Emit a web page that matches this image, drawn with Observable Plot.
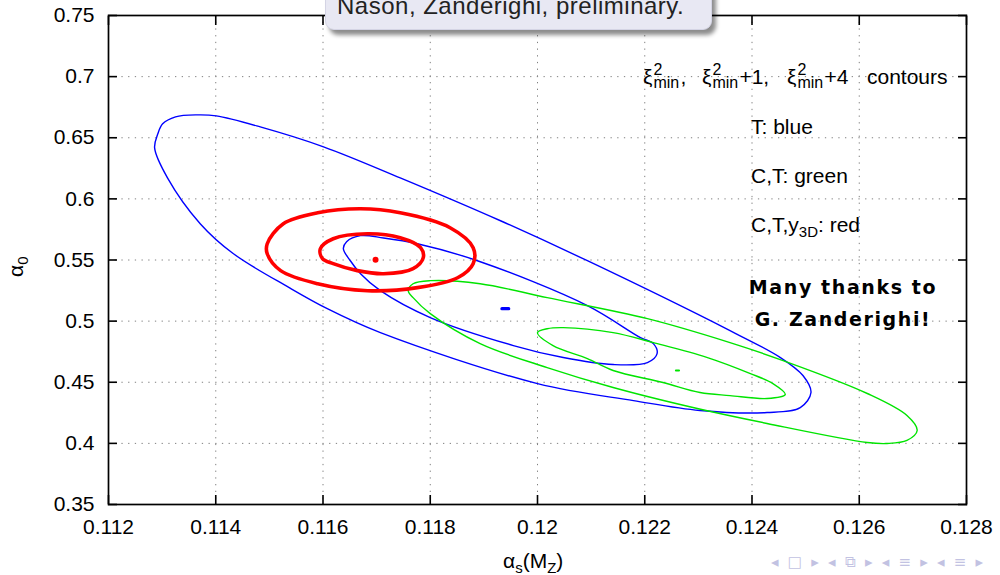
<!DOCTYPE html>
<html>
<head>
<meta charset="utf-8">
<script src="https://cdn.jsdelivr.net/npm/d3@7"></script>
<script src="https://cdn.jsdelivr.net/npm/@observablehq/plot@0.6"></script>
<style>
  html, body { margin: 0; padding: 0; background: #fff; }
  #wrap { position: relative; width: 1000px; height: 575px; overflow: hidden; font-family: "Liberation Sans", Arial, sans-serif; color: #000; }
  #wrap svg { position: absolute; left: 0; top: 0; }
  .ov { position: absolute; white-space: nowrap; font-size: 21px; line-height: 21px; }
  .ss { display: inline-block; position: relative; width: 28px; height: 1px; }
  .ss .sp, .ss .sb { position: absolute; left: 1px; font-size: 16px; line-height: 16px; }
  .ss .sp { top: -21px; }
  .ss .sb { top: -8.5px; }
  sub.s { font-size: 15px; vertical-align: -5px; line-height: 0; }
  #titlebox { position: absolute; left: 325px; top: -22px; width: 387px; height: 52px; border-radius: 9px;
    background: #e8e8f3; box-shadow: 4px 5px 4px rgba(0,0,0,0.45); border: 1px solid #d4d4e4; box-sizing: border-box; }
  #titletext { position: absolute; left: 337px; top: -6px; font-size: 24px; line-height: 24px; letter-spacing: 0.5px; color: #222; white-space: nowrap; }
  #thanks { position: absolute; left: 743px; top: 271px; width: 200px; text-align: center; font-family: "DejaVu Sans", sans-serif;
    font-weight: bold; font-size: 19px; line-height: 32px; letter-spacing: 1.6px; }
  #nav { position: absolute; left: 771px; top: 553px; width: 212px; display: flex; justify-content: space-between; color: #c2c2e2; font-size: 15px; font-family: "DejaVu Sans", sans-serif; }
</style>
</head>
<body>
<div id="wrap"></div>
<script>
// ---- tick values ----
const xTicks = [0.112, 0.114, 0.116, 0.118, 0.12, 0.122, 0.124, 0.126, 0.128];
const yTicks = [0.35, 0.4, 0.45, 0.5, 0.55, 0.6, 0.65, 0.7, 0.75];

// ---- contours [alpha_s, alpha_0] ----
// T (blue): chi2min+4 and chi2min+1
const blueOuter = [[0.11286,0.6417],[0.11292,0.6532],[0.11301,0.6614],[0.11325,0.6671],[0.11366,0.6687],[0.11401,0.6679],
  [0.11483,0.6589],[0.11601,0.6426],[0.11744,0.6172],[0.11931,0.5821],[0.12093,0.5494],[0.12359,0.4922],[0.12453,0.4702],
  [0.12495,0.4555],[0.12510,0.4416],[0.12490,0.4293],[0.12428,0.4252],[0.12303,0.4269],[0.12179,0.4350],[0.12000,0.4489],
  [0.11707,0.4906],[0.11608,0.5102],[0.11537,0.5274],[0.11433,0.5551],[0.11371,0.5797],[0.11310,0.6172]];
const blueInner = [[0.11638,0.5592],[0.11644,0.5650],[0.11670,0.5699],[0.11713,0.5680],[0.11776,0.5633],[0.11888,0.5494],
  [0.12093,0.5127],[0.12192,0.4865],[0.12216,0.4816],[0.12223,0.4734],[0.12205,0.4661],[0.12141,0.4645],[0.12048,0.4702],
  [0.11955,0.4800],[0.11800,0.5029],[0.11707,0.5249],[0.11670,0.5388],[0.11651,0.5494]];
// C,T (green)
const greenOuter = [[0.11759,0.5249],[0.11768,0.5306],[0.11800,0.5331],[0.11893,0.5306],[0.12018,0.5192],[0.12205,0.5020],
  [0.12359,0.4824],[0.12458,0.4677],[0.12615,0.4408],[0.12689,0.4228],[0.12708,0.4105],[0.12689,0.4024],[0.12652,0.3999],
  [0.12615,0.4007],[0.12428,0.4163],[0.12298,0.4285],[0.12141,0.4457],[0.12018,0.4620],[0.11893,0.4816],[0.11800,0.5061],
  [0.11768,0.5192]];
const greenInner = [[0.12000,0.4906],[0.12018,0.4938],[0.12048,0.4947],[0.12141,0.4906],[0.12216,0.4824],[0.12317,0.4702],
  [0.12397,0.4571],[0.12439,0.4489],[0.12462,0.4400],[0.12428,0.4367],[0.12359,0.4391],[0.12303,0.4416],[0.12234,0.4498],
  [0.12141,0.4596],[0.12093,0.4694],[0.12029,0.4800]];
// C,T,y3D (red)
const redOuter = [[0.11496,0.5633],[0.11526,0.5797],[0.11590,0.5886],[0.11670,0.5919],[0.11744,0.5886],[0.11837,0.5764],
  [0.11880,0.5601],[0.11880,0.5470],[0.11851,0.5355],[0.11776,0.5274],[0.11683,0.5249],[0.11590,0.5306],[0.11521,0.5413],
  [0.11496,0.5551]];
const redInner = [[0.11595,0.5592],[0.11619,0.5674],[0.11683,0.5715],[0.11744,0.5682],[0.11782,0.5601],[0.11787,0.5519],
  [0.11768,0.5429],[0.11713,0.5388],[0.11664,0.5413],[0.11619,0.5470],[0.11599,0.5511]];
// minima
const redMin = [[0.11698, 0.5502]];
const blueMin = [[0.11940, 0.5102]];
const greenMin = [[0.12261, 0.4596]];

const BLUE = "#0000ff", GREEN = "#00e400", RED = "#ff0000";

function pill(w, h) {
  return { draw(ctx) {
    ctx.moveTo(-w + h, -h); ctx.lineTo(w - h, -h);
    ctx.arc(w - h, 0, h, -Math.PI / 2, Math.PI / 2);
    ctx.lineTo(-w + h, h);
    ctx.arc(-w + h, 0, h, Math.PI / 2, 3 * Math.PI / 2);
    ctx.closePath();
  }};
}

const fmt = d => String(+d.toFixed(3));
const px = d => d[0], py = d => d[1];
const contour = (data, stroke, sw) => Plot.line(data, {x: px, y: py, curve: "catmull-rom-closed", stroke, strokeWidth: sw, strokeLinejoin: "round"});
const gridStyle = {stroke: "#808080", strokeOpacity: 1, strokeWidth: 1, strokeDasharray: "1.3,5.4"};

const chart = Plot.plot({
  width: 1000, height: 575,
  marginLeft: 108, marginRight: 34, marginTop: 15, marginBottom: 71,
  x: {domain: [0.112, 0.128]},
  y: {domain: [0.35, 0.75]},
  style: {fontFamily: "'Liberation Sans', Arial, sans-serif", fontSize: "21px", color: "#000", background: "transparent", overflow: "visible"},
  marks: [
    Plot.gridX(xTicks, gridStyle),
    Plot.gridY(yTicks, gridStyle),
    contour(blueOuter, BLUE, 1.4),
    contour(blueInner, BLUE, 1.4),
    contour(greenOuter, GREEN, 1.4),
    contour(greenInner, GREEN, 1.4),
    contour(redOuter, RED, 3.6),
    contour(redInner, RED, 3.6),
    Plot.dot(redMin, {x: px, y: py, r: 3, fill: RED, stroke: "none"}),
    Plot.dot(blueMin, {x: px, y: py, symbol: pill(5, 1.6), fill: BLUE, stroke: "none"}),
    Plot.dot(greenMin, {x: px, y: py, symbol: pill(2.6, 1.1), fill: GREEN, stroke: "none"}),
    Plot.frame({stroke: "#000", strokeWidth: 1.7}),
    // inward ticks on all four sides
    Plot.axisX(xTicks, {anchor: "bottom", tickSize: -9, tickFormat: () => "", label: null, strokeWidth: 1.6}),
    Plot.axisX(xTicks, {anchor: "top", tickSize: -9, tickFormat: () => "", label: null, strokeWidth: 1.6}),
    Plot.axisY(yTicks, {anchor: "left", tickSize: -9, tickFormat: () => "", label: null, strokeWidth: 1.6}),
    Plot.axisY(yTicks, {anchor: "right", tickSize: -9, tickFormat: () => "", label: null, strokeWidth: 1.6}),
    // tick labels
    Plot.axisX(xTicks, {anchor: "bottom", tickSize: 0, tickPadding: 15, tickFormat: fmt, label: null}),
    Plot.axisY(yTicks, {anchor: "left", tickSize: 0, tickPadding: 14, tickFormat: fmt, label: null})
  ]
});

const wrap = document.getElementById("wrap");
wrap.appendChild(chart);

const xi = '<span class="ss"><span class="sp">2</span><span class="sb">min</span></span>';
wrap.insertAdjacentHTML("beforeend", `
  <div class="ov" style="left:643px; top:66px;">ξ${xi},</div>
  <div class="ov" style="left:702px; top:66px;">ξ${xi}+1,</div>
  <div class="ov" style="left:787px; top:66px;">ξ${xi}+4</div>
  <div class="ov" style="left:867px; top:66px;">contours</div>
  <div class="ov" style="left:751px; top:116px;">T: blue</div>
  <div class="ov" style="left:751px; top:165px;">C,T: green</div>
  <div class="ov" style="left:751px; top:214px;">C,T,y<sub class="s">3D</sub>: red</div>
  <div id="thanks">Many thanks to<br>G. Zanderighi!</div>
  <div class="ov" style="left:503px; top:550px;">α<sub class="s">s</sub>(M<sub class="s">Z</sub>)</div>
  <div class="ov" style="left:-2px; top:248px; transform: rotate(-90deg); transform-origin: 18px 11px;">α<sub class="s">0</sub></div>
  <div id="titlebox"></div>
  <div id="titletext">Nason, Zanderighi, preliminary.</div>
  <div id="nav"><span>◂</span><span>□</span><span>▸</span><span>◂</span><span>⧉</span><span>▸</span><span>◂</span><span>≡</span><span>▸</span><span>◂</span><span>≡</span><span>▸</span></div>
`);
</script>
</body>
</html>
